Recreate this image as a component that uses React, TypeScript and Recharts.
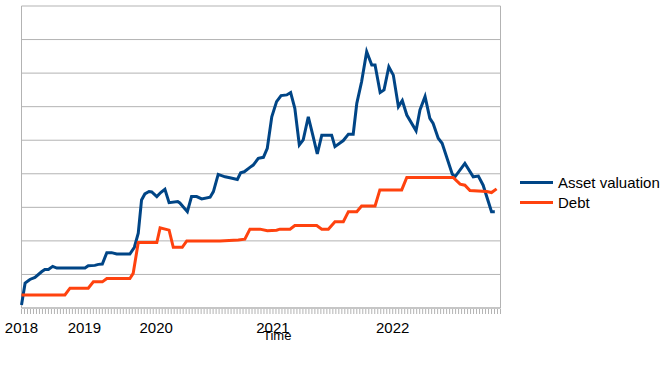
import React from 'react';
import { LineChart, Line, XAxis, YAxis, CartesianGrid } from 'recharts';

// x is a running period index (one minor tick per period), y is in grid units
const assetPeriods = [
  0, 1.2, 2.8, 4.5, 6.7, 7.8, 9, 10.4, 11.8, 21.2, 22.3, 24.5, 25.7, 27, 28.5, 30.1, 31.8, 36.2, 37.7, 39,
  40.1, 41.2, 42.6, 43.5, 45.2, 46.5, 47.9, 49.3, 52.2, 52.9, 55.4, 56.8, 58.5, 60.2, 63, 64.1, 65.7, 68, 69.6,
  72.1, 73.2, 74.4, 76.3, 77.4, 79.1, 80.8, 82.1, 83.6, 85.2, 86.7, 88.6, 89.9, 91.3, 92.8, 94.1, 95.8, 97.3,
  98.8, 100.3, 103.6, 104.7, 107.5, 109.2, 110.8, 112, 113.6, 115.3, 117, 118.1, 119.8, 121.1, 122.7, 124.2,
  125.9, 127.2, 128.7, 131.8, 133.1, 134.8, 136.4, 137.5, 139.2, 140.5, 143.9, 144.8, 148.1, 150.9, 152.6,
  154.2, 157, 158.1,
];
const assetValues = [
  0.9, 7.4, 8.5, 9.1, 10.8, 11.5, 11.5, 12.4, 11.9, 11.9, 12.6, 12.7, 13, 13.1, 16.5, 16.5, 16.1, 16.1, 18.1, 22.3,
  32.2, 34, 34.7, 34.6, 33.2, 34.4, 35.4, 31.4, 31.7, 31.3, 28.7, 33.2, 33.2, 32.5, 33, 34.7, 39.8, 39.1, 38.8,
  38.3, 40.3, 40.6, 41.9, 42.6, 44.6, 44.9, 47.6, 57, 61.5, 63.3, 63.5, 64.2, 59.5, 48.6, 50.1, 57, 51.5,
  45.9, 51.5, 51.5, 48.1, 49.9, 51.8, 51.8, 61, 67.4, 76.4, 72.4, 72.4, 64.2, 65, 71.9, 69.4,
  60, 61.8, 57.5, 52.8, 59, 63, 56.5, 55, 50.6, 49.1, 39.9, 39.1, 43.1, 39.1, 39.3,
  36.6, 28.7, 28.7,
];

const debtPeriods = [
  0, 14.5, 16.2, 22.3, 24, 27, 28.5, 36.2, 37.3, 39, 45.2, 46.3, 49.3, 50.7, 53.7, 55.2, 66.3, 72.4, 74.6, 76.3,
  79.7, 82.1, 85.2, 86.3, 89.7, 91.3, 98.6, 100.3, 102.5, 104.7, 107.5, 109.2, 112, 113.6, 118.1, 119.7, 127,
  128.7, 144.2, 146.5, 148.1, 149.8, 155.4, 157, 158.7,
];
const debtValues = [
  3.9, 3.9, 5.9, 5.9, 7.8, 7.8, 8.8, 8.8, 10.3, 19.5, 19.5, 23.9, 23.2, 18.1, 18.1, 20, 20, 20.3, 20.5, 23.5,
  23.5, 23, 23.2, 23.5, 23.5, 24.6, 24.6, 23.5, 23.5, 25.7, 25.7, 28.7, 28.7, 30.4, 30.4, 35.2, 35.2,
  38.9, 38.9, 36.9, 36.6, 35, 34.7, 34.4, 35.5,
];

const yearTicks = [0, 21, 45, 84, 124];
const yearLabels = ['2018', '2019', '2020', '2021', '2022'];
const gridValues = [0, 10, 20, 30, 40, 50, 60, 70, 80, 90];
const periodCount = 160;

const assetData = assetPeriods.map((t, i) => ({ t, v: assetValues[i] }));
const debtData = debtPeriods.map((t, i) => ({ t, v: debtValues[i] }));
const minorTicks = Array.from({ length: periodCount + 1 }, (_, i) => i);

const ASSET_COLOR = '#004586';
const DEBT_COLOR = '#ff420e';
const FONT = '"Liberation Sans", Arial, sans-serif';

const YearTick = (props: any) => {
  const { x, y, payload } = props;
  const idx = yearTicks.indexOf(payload.value);
  return (
    <g>
      <line x1={x} x2={x} y1={y + 1} y2={y + 6} stroke="#b3b3b3" strokeWidth={1} />
      {idx >= 0 && (
        <text x={x} y={y + 25} textAnchor="middle" fontSize={15} fill="#000" fontFamily={FONT}>
          {yearLabels[idx]}
        </text>
      )}
    </g>
  );
};

const App: React.FC = () => {
  return (
    <div style={{ position: 'absolute', left: 0, top: 0, width: 667, height: 379, background: '#fff' }}>
      <LineChart width={667} height={379} margin={{ top: 6, right: 166.5, bottom: 41, left: 21.5 }}>
        <CartesianGrid
          stroke="#b3b3b3"
          vertical={true}
          verticalPoints={[21.5, 500.5]}
        />
        <XAxis
          type="number"
          dataKey="t"
          domain={[0, periodCount]}
          ticks={minorTicks}
          interval={0}
          height={30}
          tickSize={0}
          tickMargin={0}
          tickLine={false}
          axisLine={{ stroke: '#b3b3b3' }}
          tick={<YearTick />}
        />
        <YAxis hide type="number" domain={[0, 90]} ticks={gridValues} />
        <Line
          data={assetData}
          dataKey="v"
          type="linear"
          stroke={ASSET_COLOR}
          strokeWidth={3}
          dot={false}
          isAnimationActive={false}
        />
        <Line
          data={debtData}
          dataKey="v"
          type="linear"
          stroke={DEBT_COLOR}
          strokeWidth={3}
          dot={false}
          isAnimationActive={false}
        />
      </LineChart>
      <div style={{ position: 'absolute', left: 263, top: 328, fontSize: 13, fontFamily: FONT, color: '#000' }}>
        Time
      </div>
      <div style={{ position: 'absolute', left: 520, top: 172, fontFamily: FONT, fontSize: 15, color: '#000' }}>
        {[
          { name: 'Asset valuation', color: ASSET_COLOR },
          { name: 'Debt', color: DEBT_COLOR },
        ].map((item) => (
          <div key={item.name} style={{ display: 'flex', alignItems: 'center', height: 20.5 }}>
            <span style={{ display: 'inline-block', width: 33, height: 3, background: item.color, marginRight: 5 }} />
            <span>{item.name}</span>
          </div>
        ))}
      </div>
    </div>
  );
};

export default App;
